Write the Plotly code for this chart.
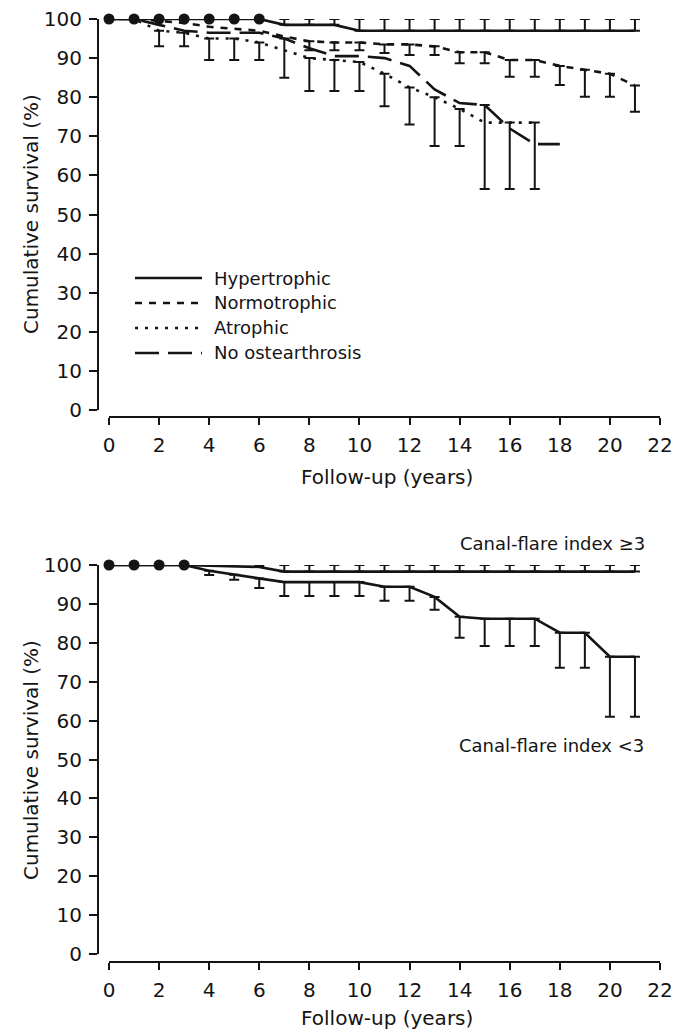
import plotly.graph_objects as go

# ---------------- data ----------------
years = list(range(0, 22))
tick_years = list(range(0, 23, 2))
survival_ticks = list(range(0, 101, 10))

top_names = ["Hypertrophic", "Normotrophic", "Atrophic", "No ostearthrosis"]
hyper = [100, 100, 100, 100, 100, 100, 100, 98.5, 98.5, 98.5, 97, 97, 97, 97, 97, 97, 97, 97, 97, 97, 97, 97]
hyper_upper = [None] * 7 + [100] * 15
normo = [100, 100, 99.5, 99, 98, 97.5, 97, 95.5, 94.3, 94, 94, 93.5, 93.5, 93, 91.5, 91.5, 89.5, 89.5, 88, 87, 86, 83]
normo_lower = [None] * 8 + [92, 92, 92, 91.3, 90.8, 90.8, 88.7, 88.7, 85.2, 85.2, 83.1, 80.1, 80.1, 76.3]
atro = [100, 100, 97, 96.5, 95, 95, 94, 92, 90, 89.5, 89, 86, 82.5, 80, 77, 73.5, 73.5, 73.5]
atro_lower = [None, None, 93, 93, 89.5, 89.5, 89.5, None, 81.6, 81.6, 81.6, 77.7, 73, 67.5, 67.5, None, 56.5, 56.5]
noost = [100, 100, 98.5, 97, 96.5, 96.5, 96.5, 95, 92.5, 90.5, 90.5, 90, 88, 82, 78.5, 78, 72, 68, 68]
noost_lower = [None] * 7 + [85] + [None] * 7 + [56.5] + [None] * 3
top_marker_years = [0, 1, 2, 3, 4, 5, 6]

bottom_names = ["Canal-flare index \u22653", "Canal-flare index <3"]
cfi_ge3 = [100, 100, 100, 100, 99.8, 99.6, 99.5] + [98.3] * 15
cfi_ge3_upper = [None] * 6 + [100] * 16
cfi_lt3 = [100, 100, 100, 100, 98.5, 97.5, 96.5, 95.6, 95.6, 95.6, 95.6, 94.4, 94.4, 91.8, 86.7,
           86.2, 86.2, 86.2, 82.6, 82.6, 76.4, 76.4]
cfi_lt3_lower = [None] * 4 + [97.4, 96.2, 94.1, 92, 92, 92, 92, 90.8, 90.8, 88.5, 81.3, 79.2, 79.2, 79.2,
                              73.6, 73.6, 61, 61]
bottom_marker_years = [0, 1, 2, 3]

x_title = "Follow-up (years)"
y_title = "Cumulative survival (%)"

# ---------------- style ----------------
INK = "#141414"
FONT = "DejaVu Sans"
PAGE_OFF = 8            # default page margin of the HTML body
W, H = 684 - PAGE_OFF, 1031 - PAGE_OFF
LW = 2.6
dashes = ["solid", "7px,7px", "3px,7px", "24px,9px"]


def px(x):
    return (x - PAGE_OFF) / W


def py(y):
    return 1 - (y - PAGE_OFF) / H


fig = go.Figure()


def line_trace(xs, ys, dash, xa, ya):
    return go.Scatter(x=xs, y=ys, mode="lines", line=dict(color=INK, width=LW, dash=dash),
                      xaxis=xa, yaxis=ya, showlegend=False, hoverinfo="skip", cliponaxis=False)


def bar_trace(xs, ys, ends, xa, ya):
    sel = [(x, y, e) for x, y, e in zip(xs, ys, ends) if e is not None]
    return go.Scatter(
        x=[s[0] for s in sel], y=[s[1] for s in sel], mode="markers",
        marker=dict(size=1, opacity=0, color=INK),
        error_y=dict(type="data", symmetric=False,
                     array=[max(s[2] - s[1], 0) for s in sel],
                     arrayminus=[max(s[1] - s[2], 0) for s in sel],
                     width=5, thickness=2, color=INK),
        xaxis=xa, yaxis=ya, showlegend=False, hoverinfo="skip", cliponaxis=False)


def marker_trace(mx, xs, ys, xa, ya):
    lookup = dict(zip(xs, ys))
    return go.Scatter(x=mx, y=[lookup[m] for m in mx], mode="markers",
                      marker=dict(size=11, color=INK), xaxis=xa, yaxis=ya,
                      showlegend=False, hoverinfo="skip", cliponaxis=False)


# top panel
top_series = [(hyper, hyper_upper), (normo, normo_lower), (atro, atro_lower), (noost, noost_lower)]
for (vals, ends), dash, name in zip(top_series, dashes, top_names):
    xs = years[:len(vals)]
    fig.add_trace(bar_trace(xs, vals, ends, "x", "y"))
    tr = line_trace(xs, vals, dash, "x", "y")
    tr.name = name
    fig.add_trace(tr)
fig.add_trace(marker_trace(top_marker_years, years, hyper, "x", "y"))

# bottom panel
for vals, ends, name in [(cfi_ge3, cfi_ge3_upper, bottom_names[0]), (cfi_lt3, cfi_lt3_lower, bottom_names[1])]:
    xs = years[:len(vals)]
    fig.add_trace(bar_trace(xs, vals, ends, "x2", "y2"))
    tr = line_trace(xs, vals, "solid", "x2", "y2")
    tr.name = name
    fig.add_trace(tr)
fig.add_trace(marker_trace(bottom_marker_years, years, cfi_ge3, "x2", "y2"))

# ---------------- axes ----------------
x_dom = [px(109), px(660)]
y_pos = px(98)
top_y_dom = [py(410), py(19)]
bot_y_dom = [py(954), py(565)]

xcommon = dict(range=[0, 22], domain=x_dom, anchor="free", showline=True, linecolor=INK, linewidth=2,
               ticks="outside", ticklen=7, tickwidth=2, tickcolor=INK, tickvals=tick_years,
               tickfont=dict(family=FONT, size=20, color=INK), showgrid=False, zeroline=False,
               automargin=False, ticklabelstandoff=3, ticklabeloverflow="allow", fixedrange=True)
ycommon = dict(range=[0, 100], anchor="free", position=y_pos, showline=True, linecolor=INK, linewidth=2,
               ticks="outside", ticklen=8, tickwidth=2, tickcolor=INK, tickvals=survival_ticks,
               tickfont=dict(family=FONT, size=20, color=INK), showgrid=False, zeroline=False,
               automargin=False, ticklabelstandoff=3, ticklabeloverflow="allow", fixedrange=True)

fig.update_layout(
    xaxis=dict(xcommon, position=py(417)),
    yaxis=dict(ycommon, domain=top_y_dom),
    xaxis2=dict(xcommon, position=py(962)),
    yaxis2=dict(ycommon, domain=bot_y_dom),
)

# ---------------- text & legend ----------------
ann = []
for yc in (477, 1018):
    ann.append(dict(text=x_title, x=px(387), y=py(yc), xref="paper", yref="paper", showarrow=False,
                    font=dict(family=FONT, size=20, color=INK), xanchor="center", yanchor="middle"))
for yc in (214, 760):
    ann.append(dict(text=y_title, x=px(31), y=py(yc), xref="paper", yref="paper", showarrow=False,
                    textangle=-90, font=dict(family=FONT, size=20, color=INK),
                    xanchor="center", yanchor="middle"))
ann.append(dict(text=bottom_names[0], x=px(552), y=py(543), xref="paper", yref="paper", showarrow=False,
                font=dict(family=FONT, size=18, color=INK), xanchor="center", yanchor="middle"))
ann.append(dict(text=bottom_names[1], x=px(551), y=py(745), xref="paper", yref="paper", showarrow=False,
                font=dict(family=FONT, size=18, color=INK), xanchor="center", yanchor="middle"))

shapes = []
legend_rows = [278, 303, 328, 353]
for name, dash, ry in zip(top_names, dashes, legend_rows):
    shapes.append(dict(type="line", xref="paper", yref="paper", x0=px(135), x1=px(202), y0=py(ry), y1=py(ry),
                       line=dict(color=INK, width=LW, dash=dash)))
    ann.append(dict(text=name, x=px(212), y=py(ry), xref="paper", yref="paper", showarrow=False,
                    font=dict(family=FONT, size=18, color=INK), xanchor="left", yanchor="middle"))

fig.update_layout(
    width=W, height=H, margin=dict(l=0, r=0, t=0, b=0),
    paper_bgcolor="white", plot_bgcolor="white", showlegend=False,
    annotations=ann, shapes=shapes, template="none",
)

fig.write_html("out.html")
